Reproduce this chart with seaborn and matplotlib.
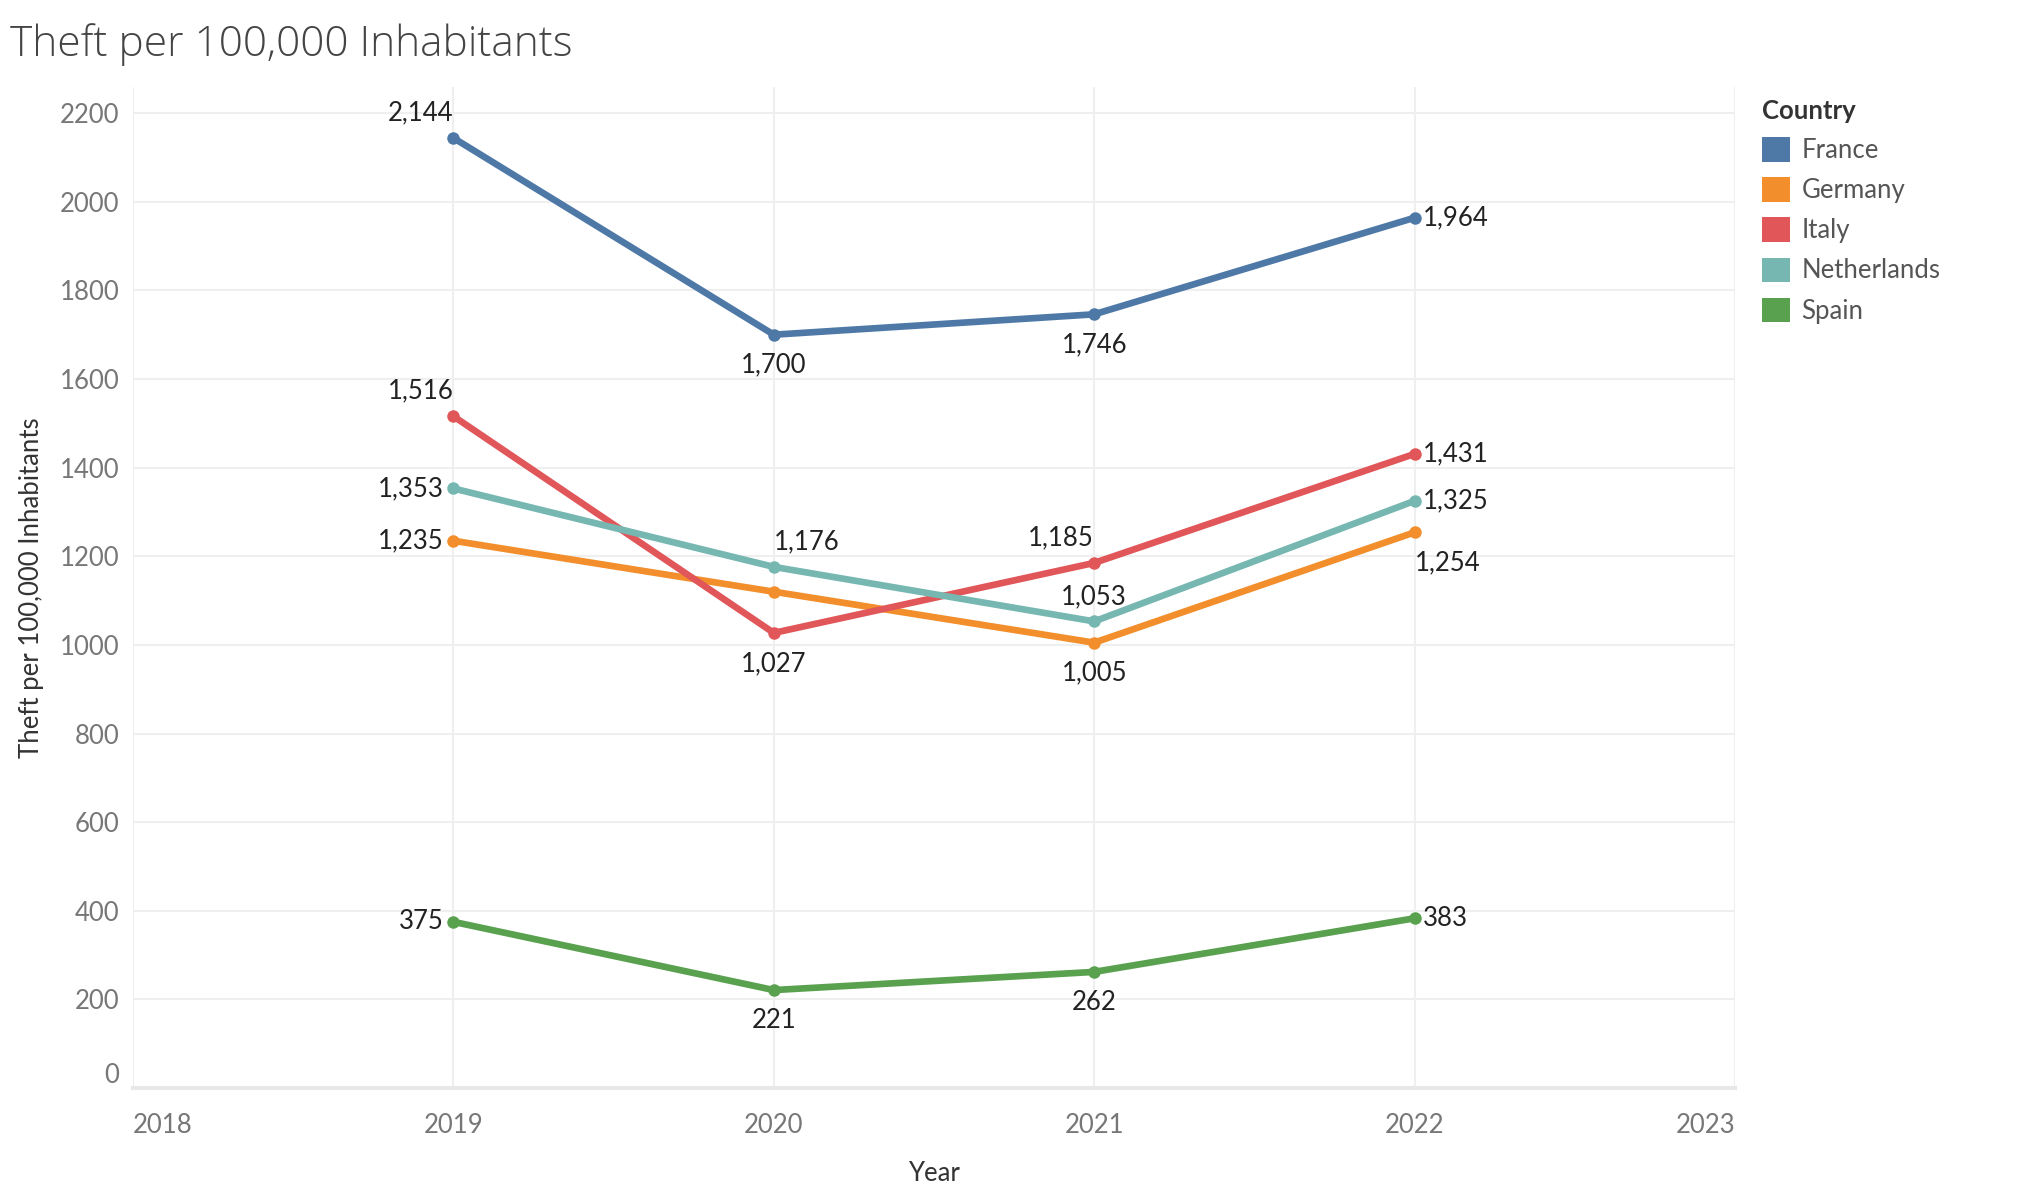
import matplotlib
matplotlib.use("Agg")
import matplotlib.pyplot as plt
from matplotlib.patches import Patch
import seaborn as sns
import pandas as pd

# data
years = [2019, 2020, 2021, 2022]
countries = ["France", "Germany", "Italy", "Netherlands", "Spain"]
france = [2144, 1700, 1746, 1964]
germany = [1235, 1120, 1005, 1254]
italy = [1516, 1027, 1185, 1431]
netherlands = [1353, 1176, 1053, 1325]
spain = [375, 221, 262, 383]

colors = ["#4E79A7", "#F28E2B", "#E15759", "#76B7B2", "#59A14F"]

# where each value label sits (None = hidden, like Tableau does)
label_pos = {
    "France": ["ul", "b", "b", "r"],
    "Germany": ["l", None, "b", "br"],
    "Italy": ["ul", "b", "ul", "r"],
    "Netherlands": ["l", "ur", "t", "r"],
    "Spain": ["l", "b", "b", "r"],
}

rows = []
for name, vals in zip(countries, [france, germany, italy, netherlands, spain]):
    for y, v in zip(years, vals):
        rows.append({"Year": y, "Country": name, "Value": v})
df = pd.DataFrame(rows)

sns.set_theme(style="white")
plt.rcParams["font.family"] = ["Lato", "DejaVu Sans"]
FS = 18.5

W, H = 2036, 1202
fig = plt.figure(figsize=(W / 100, H / 100), dpi=100)
L, R, T, B = 133, 1735, 87, 1088
ax = fig.add_axes([L / W, 1 - B / H, (R - L) / W, (B - T) / H])

palette = dict(zip(countries, colors))
sns.lineplot(data=df, x="Year", y="Value", hue="Country", hue_order=countries,
             palette=palette, marker="o", markersize=9, markeredgewidth=0,
             linewidth=4.8, ax=ax, legend=False)

# value labels
styles = {
    "ul": dict(xytext=(0, 9), ha="right", va="bottom"),
    "ur": dict(xytext=(0, 9), ha="left", va="bottom"),
    "l": dict(xytext=(-7, 0), ha="right", va="center"),
    "r": dict(xytext=(6, 0), ha="left", va="center"),
    "b": dict(xytext=(0, -13), ha="center", va="top"),
    "br": dict(xytext=(0, -13), ha="left", va="top"),
    "t": dict(xytext=(0, 9), ha="center", va="bottom"),
}
for _, r in df.iterrows():
    pos = label_pos[r["Country"]][years.index(r["Year"])]
    if pos is None:
        continue
    ax.annotate(f"{r['Value']:,}", (r["Year"], r["Value"]), textcoords="offset points",
                fontsize=FS, color="#222222", **styles[pos])

ax.set_xlim(2018, 2023)
ax.set_ylim(0, 2259)
ax.set_xticks(range(2018, 2024))
ax.set_yticks(range(0, 2201, 200))
ax.grid(True, color="#efefef", linewidth=1.5)
for s in ["top", "right", "left"]:
    ax.spines[s].set_visible(False)
ax.spines["bottom"].set_color("#e8e8e8")
ax.spines["bottom"].set_linewidth(3)
ax.tick_params(axis="x", length=6, color="#efefef", pad=12, labelsize=FS, labelcolor="#777777")
ax.tick_params(axis="y", length=0, pad=10, labelsize=FS, labelcolor="#777777")
xl = ax.get_xticklabels()
xl[0].set_ha("left")
xl[-1].set_ha("right")
yl = ax.get_yticklabels()
yl[0].set_va("bottom")  # Tableau lifts the 0 label off the axis line

ax.set_xlabel("Year", fontsize=FS, color="#333333")
ax.xaxis.set_label_coords(0.5, -0.073)
ax.set_ylabel("Theft per 100,000 Inhabitants", fontsize=FS, color="#333333")
ax.yaxis.set_label_coords(-0.0555, 0.5)

fig.text(10 / W, 1 - 45 / H, "Theft per 100,000 Inhabitants", fontsize=30.5,
         color="#444444", va="center", ha="left", fontweight="light",
         family=["Open Sans", "Lato", "DejaVu Sans"])

handles = [Patch(facecolor=c, edgecolor="none") for c in colors]
leg = fig.legend(handles, countries, title="Country", loc="upper left",
                 bbox_to_anchor=(1762 / W, 1 - 99 / H), frameon=False, borderpad=0,
                 borderaxespad=0, fontsize=FS, title_fontsize=FS,
                 handlelength=1.09, handleheight=1.09,
                 handletextpad=0.45, labelspacing=0.55, alignment="left")
for t in leg.get_texts():
    t.set_color("#555555")
leg.get_title().set_color("#333333")
leg.get_title().set_fontweight("bold")

fig.savefig("out.png", dpi=100)
